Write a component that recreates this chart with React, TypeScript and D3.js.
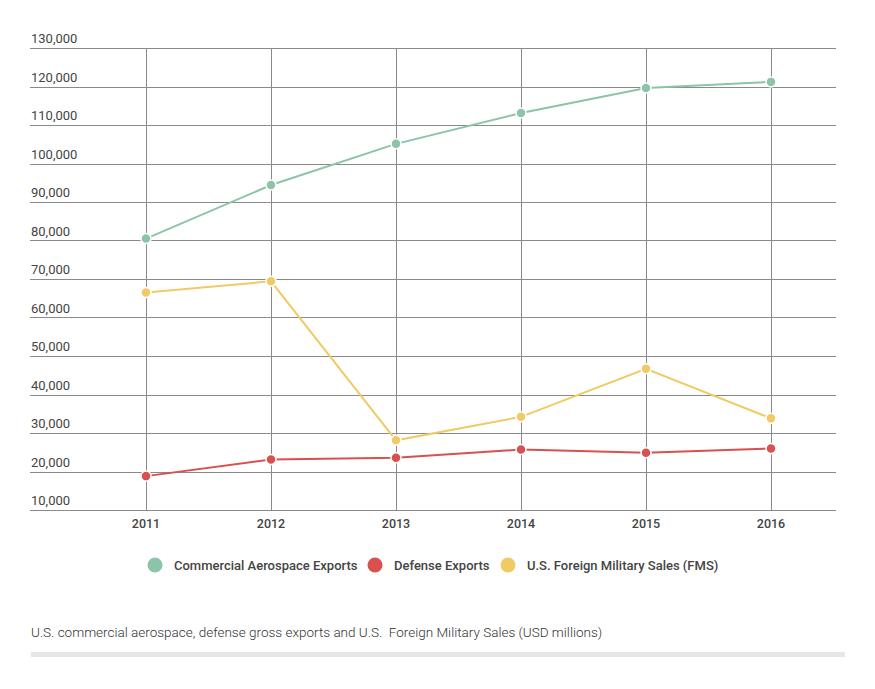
import React, { useEffect, useRef } from "react";
import * as d3 from "d3";

// --- Data (USD millions) ---
const years = ["2011", "2012", "2013", "2014", "2015", "2016"];
const commercial = [80500, 94400, 105100, 113100, 119600, 121200];
const defense = [18800, 23100, 23600, 25700, 24900, 26000];
const fms = [66500, 69400, 28100, 34200, 46700, 33800];
const yTicks = [10000, 20000, 30000, 40000, 50000, 60000, 70000, 80000, 90000, 100000, 110000, 120000, 130000];

const seriesNames = [
  "Commercial Aerospace Exports",
  "Defense Exports",
  "U.S. Foreign Military Sales (FMS)",
];
const seriesColors = ["#8cc4a8", "#d9504f", "#f1ca66"];

const caption =
  "U.S. commercial aerospace, defense gross exports and U.S.\u00a0 Foreign Military Sales (USD millions)";

const WIDTH = 875;
const HEIGHT = 689;

const App: React.FC = () => {
  const svgRef = useRef<SVGSVGElement>(null);

  useEffect(() => {
    if (!svgRef.current) return;
    const svg = d3.select(svgRef.current);
    svg.selectAll("*").remove();

    const font = "Roboto, 'Noto Sans', sans-serif";
    const left = 30;
    const right = 836;
    const top = 48;
    const bottom = 510;

    // scales
    const x = d3.scalePoint<string>().domain(years).range([146, 771]);
    const y = d3.scaleLinear().domain([10000, 130000]).range([bottom, top]);

    // horizontal grid + labels
    const grid = svg.append("g");
    grid
      .selectAll("line.h")
      .data(yTicks)
      .enter()
      .append("line")
      .attr("x1", left)
      .attr("x2", right)
      .attr("y1", (d) => Math.round(y(d)) + 0.5)
      .attr("y2", (d) => Math.round(y(d)) + 0.5)
      .attr("stroke", "#8a8a8a")
      .attr("stroke-width", 1);

    grid
      .selectAll("text.ylab")
      .data(yTicks)
      .enter()
      .append("text")
      .attr("x", left + 1)
      .attr("y", (d) => y(d) - 5)
      .style("font-family", font)
      .style("font-size", "13px")
      .style("fill", "#444")
      .text((d) => d3.format(",")(d));

    // vertical grid
    grid
      .selectAll("line.v")
      .data(years)
      .enter()
      .append("line")
      .attr("x1", (d) => Math.round(x(d)!) + 0.5)
      .attr("x2", (d) => Math.round(x(d)!) + 0.5)
      .attr("y1", top)
      .attr("y2", bottom)
      .attr("stroke", "#8a8a8a")
      .attr("stroke-width", 1);

    // year labels
    grid
      .selectAll("text.xlab")
      .data(years)
      .enter()
      .append("text")
      .attr("x", (d) => x(d)!)
      .attr("y", bottom + 18)
      .attr("text-anchor", "middle")
      .style("font-family", font)
      .style("font-size", "12.5px")
      .style("font-weight", 500)
      .style("fill", "#444")
      .text((d) => d);

    // lines + points
    const allSeries = [commercial, defense, fms];
    const line = d3
      .line<number>()
      .x((_, i) => x(years[i])!)
      .y((d) => y(d));

    allSeries.forEach((values, si) => {
      const g = svg.append("g");
      g.append("path")
        .datum(values)
        .attr("d", line)
        .attr("fill", "none")
        .attr("stroke", seriesColors[si])
        .attr("stroke-width", 2);
      g.selectAll("circle")
        .data(values)
        .enter()
        .append("circle")
        .attr("cx", (_, i) => x(years[i])!)
        .attr("cy", (d) => y(d))
        .attr("r", 5)
        .attr("fill", seriesColors[si])
        .attr("stroke", "#fff")
        .attr("stroke-width", 1.5);
    });

    // legend
    const legendY = 565;
    const legendX = [155, 375, 508];
    const legend = svg.append("g");
    seriesNames.forEach((name, i) => {
      legend
        .append("circle")
        .attr("cx", legendX[i])
        .attr("cy", legendY)
        .attr("r", 7.5)
        .attr("fill", seriesColors[i]);
      legend
        .append("text")
        .attr("x", legendX[i] + 19)
        .attr("y", legendY + 4.5)
        .style("font-family", font)
        .style("font-size", "13px")
        .style("font-weight", 500)
        .style("fill", "#444")
        .text(name);
    });

    // caption + bar
    svg
      .append("text")
      .attr("x", 31)
      .attr("y", 637)
      .style("font-family", font)
      .style("font-size", "13.5px")
      .style("font-weight", 300)
      .style("fill", "#333")
      .text(caption);

    svg
      .append("rect")
      .attr("x", 31)
      .attr("y", 652)
      .attr("width", 814)
      .attr("height", 5)
      .attr("fill", "#e6e6e6");
  }, []);

  return (
    <div style={{ position: "absolute", left: 0, top: 0, background: "#fff" }}>
      <svg ref={svgRef} width={WIDTH} height={HEIGHT} style={{ display: "block" }} />
    </div>
  );
};

export default App;
